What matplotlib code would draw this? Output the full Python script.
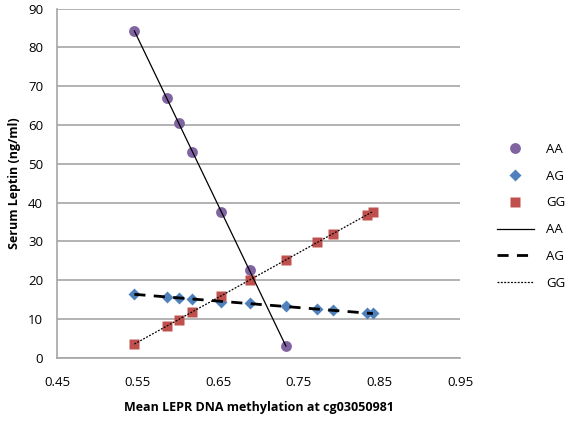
import numpy as np
import matplotlib
matplotlib.use("Agg")
import matplotlib.pyplot as plt
from matplotlib.lines import Line2D

plt.rcParams['font.family'] = ['Open Sans', 'DejaVu Sans']

# Data
aa_x = [0.546, 0.586, 0.601, 0.618, 0.654, 0.689, 0.734]
aa_y = [84.3, 67.0, 60.5, 53.1, 37.5, 22.5, 3.0]
ag_x = [0.546, 0.586, 0.601, 0.618, 0.654, 0.689, 0.734, 0.773, 0.792, 0.834, 0.842]
ag_y = [16.3, 15.7, 15.4, 15.2, 14.4, 14.0, 13.3, 12.6, 12.2, 11.4, 11.4]
gg_x = [0.546, 0.586, 0.601, 0.618, 0.654, 0.689, 0.734, 0.773, 0.792, 0.834, 0.842]
gg_y = [3.6, 8.3, 9.8, 11.7, 15.8, 20.1, 25.3, 29.8, 31.9, 36.8, 37.7]

x_ticks = [0.45, 0.55, 0.65, 0.75, 0.85, 0.95]
y_ticks = [0, 10, 20, 30, 40, 50, 60, 70, 80, 90]

c_aa = '#8064A2'
c_ag = '#4F81BD'
c_gg = '#C0504D'
grid_c = '#A6A6A6'
fs = 9.5

fig = plt.figure(figsize=(5.73, 4.22), dpi=100)
ax = fig.add_axes([57/573, 1-357.7/422, (460-57)/573, (357.7-8.7)/422])

ax.set_xlim(0.45, 0.95)
ax.set_ylim(0, 90)
ax.set_xticks(x_ticks)
ax.set_xticklabels([f'{v:.2f}' for v in x_ticks])
ax.set_yticks(y_ticks)
ax.set_yticklabels([str(v) for v in y_ticks])
ax.yaxis.grid(True, color=grid_c, linewidth=1.2)
ax.set_axisbelow(True)
for s in ['top', 'right']:
    ax.spines[s].set_visible(False)
for s in ['left', 'bottom']:
    ax.spines[s].set_color(grid_c)
    ax.spines[s].set_linewidth(1.2)
ax.tick_params(axis='both', length=0, labelsize=fs, colors='#000000')
ax.tick_params(axis='y', pad=10)
ax.tick_params(axis='x', pad=13)

def fit_line(x, y):
    k, b = np.polyfit(x, y, 1)
    xs = np.array([min(x), max(x)])
    return xs, k * xs + b

xs, ys = fit_line(aa_x, aa_y)
ax.plot(xs, ys, color='black', lw=0.9, zorder=3)
xs, ys = fit_line(ag_x, ag_y)
ax.plot(xs, ys, color='black', lw=2.0, dashes=(4, 3), zorder=3)
xs, ys = fit_line(gg_x, gg_y)
ax.plot(xs, ys, color='black', lw=0.9, dashes=(1.5, 1.2), zorder=3)

ax.plot(aa_x, aa_y, 'o', color=c_aa, ms=7.8, mec='none', zorder=2)
ax.plot(ag_x, ag_y, 'D', color=c_ag, ms=6.5, mec='none', zorder=2)
ax.plot(gg_x, gg_y, 's', color=c_gg, ms=7.8, mec='none', zorder=2)

ax.set_xlabel('Mean LEPR DNA methylation at cg03050981', fontsize=9, fontweight='bold', labelpad=9)
ax.set_ylabel('Serum Leptin (ng/ml)', fontsize=9, fontweight='bold', labelpad=5)

handles = [
    Line2D([], [], ls='none', marker='o', color=c_aa, ms=7.8, mec='none'),
    Line2D([], [], ls='none', marker='D', color=c_ag, ms=6.5, mec='none'),
    Line2D([], [], ls='none', marker='s', color=c_gg, ms=7.8, mec='none'),
    Line2D([], [], color='black', lw=0.9),
    Line2D([], [], color='black', lw=2.0, dashes=(4, 3)),
    Line2D([], [], color='black', lw=0.9, dashes=(1.5, 1.2)),
]
labels = ['AA', 'AG', 'GG', 'AA', 'AG', 'GG']
fig.legend(handles, labels, loc='upper left', bbox_to_anchor=(497/573, 1-143/422),
           frameon=False, fontsize=fs, handlelength=2.8, handletextpad=0.9,
           labelspacing=1.04, borderpad=0, borderaxespad=0)

fig.savefig('out.png', dpi=100)
